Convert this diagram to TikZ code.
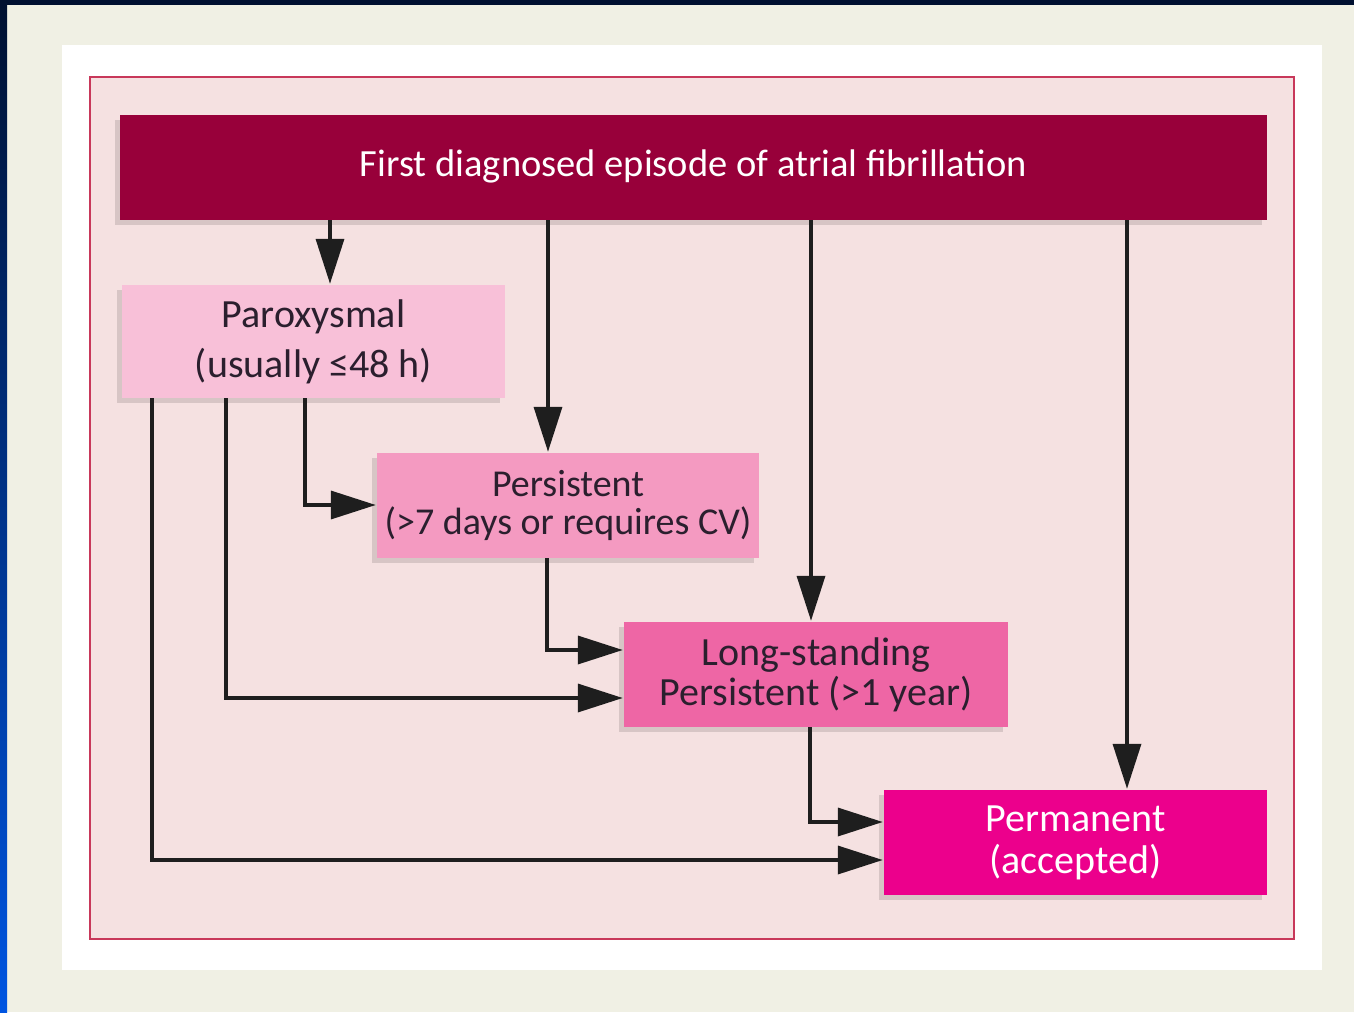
\documentclass[tikz,border=0pt]{standalone}
\usepackage{fontspec}
\setmainfont{Carlito}
\usepackage{tikz}
\usetikzlibrary{arrows.meta,shadows}

\definecolor{pagebg}{HTML}{F0F0E4}
\definecolor{edgenavy}{HTML}{001030}
\definecolor{edgeblue}{HTML}{0055E1}
\definecolor{panelfill}{HTML}{F5E1E1}
\definecolor{panelline}{HTML}{C8385A}
\definecolor{headfill}{HTML}{98003A}
\definecolor{paroxfill}{HTML}{F8C0D8}
\definecolor{persistfill}{HTML}{F49AC1}
\definecolor{longfill}{HTML}{EE66A5}
\definecolor{permfill}{HTML}{EC008C}
\definecolor{inktext}{HTML}{2B1F2E}
\definecolor{inkline}{HTML}{1E1E1E}

\tikzset{
  stagebox/.style={rectangle, inner sep=0pt, align=center, text=inktext,
    drop shadow={shadow xshift=-5pt, shadow yshift=-5pt, opacity=0.12, fill=black}},
  flow/.style={draw=inkline, line width=3.5pt,
    -{Triangle[length=45pt, width=28pt]}, shorten >=1pt},
}

\begin{document}
\begin{tikzpicture}[x=1pt, y=-1pt]

        \useasboundingbox (0,0) rectangle (1354,1012);

        % page and frame
        \fill[pagebg] (0,0) rectangle (1354,1012);
        \fill[edgenavy] (0,0) rectangle (1354,5);
        \shade[top color=edgenavy, bottom color=edgeblue] (0,0) rectangle (7,1012);
        \fill[white] (62,45) rectangle (1322,970);
        \filldraw[fill=panelfill, draw=panelline, line width=2.5pt] (90,77) rectangle (1294,939);

        % stages
        \node[stagebox, fill=headfill, text=white, minimum width=1147pt, minimum height=105pt,
              font=\fontsize{38.5}{40}\selectfont] (first) at (693.5,167.5) {\raisebox{8pt}{First diagnosed episode of atrial fibrillation}};

        \node[stagebox, fill=paroxfill, minimum width=383pt, minimum height=113pt,
              font=\fontsize{40}{50}\selectfont] (parox) at (313.5,341.5) {Paroxysmal\\(usually ≤48 h)};

        \node[stagebox, fill=persistfill, minimum width=382pt, minimum height=105pt,
              font=\fontsize{38}{38}\selectfont] (persist) at (568,505.5) {Persistent\\(>7 days or requires CV)};

        \node[stagebox, fill=longfill, minimum width=384pt, minimum height=105pt,
              font=\fontsize{40}{40}\selectfont] (longst) at (816,674.5) {Long-standing\\Persistent (>1 year)};

        \node[stagebox, fill=permfill, text=white, minimum width=383pt, minimum height=105pt,
              font=\fontsize{40}{42}\selectfont] (perm) at (1075.5,842.5) {Permanent\\(accepted)};

        % connector columns and rows
        \coordinate (xa) at (330,0);
        \coordinate (xb) at (548,0);
        \coordinate (xc) at (811,0);
        \coordinate (xd) at (1127,0);
        \coordinate (xe) at (305,0);
        \coordinate (xf) at (226,0);
        \coordinate (xg) at (152,0);
        \coordinate (xh) at (547,0);
        \coordinate (xi) at (810,0);
        \coordinate (ya) at (0,505);
        \coordinate (yb) at (0,650);
        \coordinate (yc) at (0,698);
        \coordinate (yd) at (0,822);
        \coordinate (ye) at (0,860);

        % from the first episode
        \draw[flow] (xa |- first.south) -- (xa |- parox.north);
        \draw[flow] (xb |- first.south) -- (xb |- persist.north);
        \draw[flow] (xc |- first.south) -- (xc |- longst.north);
        \draw[flow] (xd |- first.south) -- (xd |- perm.north);

        % progression
        \draw[flow] (xe |- parox.south) |- (ya -| persist.west);
        \draw[flow] (xf |- parox.south) |- (yc -| longst.west);
        \draw[flow] (xg |- parox.south) |- (ye -| perm.west);
        \draw[flow] (xh |- persist.south) |- (yb -| longst.west);
        \draw[flow] (xi |- longst.south) |- (yd -| perm.west);

    \end{tikzpicture}
\end{document}
